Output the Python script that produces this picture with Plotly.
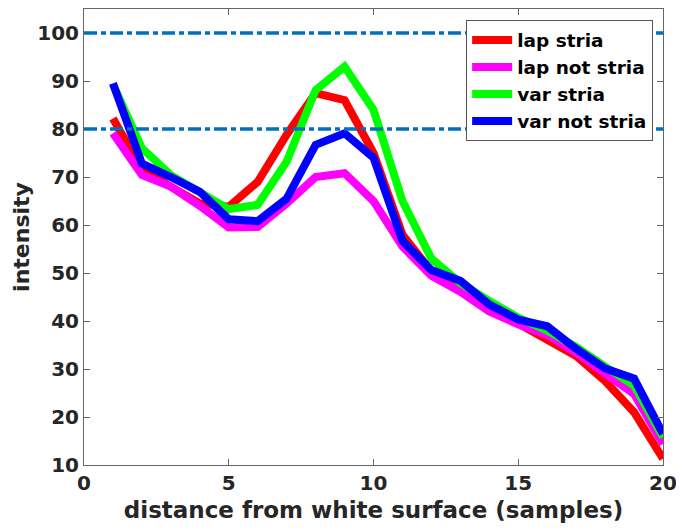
import plotly.graph_objects as go

x = list(range(1, 21))
lap_stria = [82.2, 71.5, 68.0, 64.5, 63.8, 69.0, 78.8, 87.5, 86.0, 75.0, 58.0, 50.3, 46.8, 42.5, 39.5, 36.1, 32.7, 27.5, 21.0, 11.3]
lap_not_stria = [79.1, 70.4, 68.0, 64.0, 59.5, 59.6, 64.5, 70.0, 70.8, 65.0, 55.5, 49.4, 46.1, 42.0, 39.3, 37.1, 33.4, 29.0, 24.8, 14.4]
var_stria = [89.3, 76.0, 70.4, 66.9, 63.3, 64.2, 73.2, 88.1, 93.0, 84.0, 65.0, 53.0, 47.9, 44.2, 40.7, 38.0, 34.6, 30.5, 26.6, 15.8]
var_not_stria = [89.5, 72.8, 70.0, 66.9, 61.2, 60.8, 65.5, 76.7, 79.1, 74.0, 56.7, 50.6, 48.4, 43.4, 40.3, 38.9, 34.2, 30.1, 28.0, 16.5]
ref_levels = [80, 100]

series = [
    ("lap stria", lap_stria, "#FF0000"),
    ("lap not stria", lap_not_stria, "#FF00FF"),
    ("var stria", var_stria, "#00FF00"),
    ("var not stria", var_not_stria, "#0000FF"),
]

fig = go.Figure()
for name, vals, col in series:
    fig.add_trace(go.Scatter(x=x, y=vals, mode="lines", name=name,
                             line=dict(color=col, width=8)))

for lv in ref_levels:
    fig.add_hline(y=lv, line=dict(color="#0072BD", width=3.5, dash="13px,4px,5px,4px"))

font_col = "#262626"
axis_common = dict(showgrid=False, zeroline=False, showline=True, mirror="ticks",
                   linecolor="#666666", linewidth=1, ticks="inside", ticklen=6,
                   tickcolor="#666666", automargin=False,
                   tickfont=dict(family="DejaVu Sans", size=20, color=font_col, weight="bold"))

fig.update_layout(
    width=676, height=523,
    margin=dict(l=76, r=21, t=1, b=66),
    paper_bgcolor="white", plot_bgcolor="white",
    font=dict(family="DejaVu Sans", color=font_col),
    xaxis=dict(range=[0, 20], tickvals=[0, 5, 10, 15, 20],
               title=dict(text="distance from white surface (samples)",
                          font=dict(size=23, color=font_col, weight="bold"), standoff=7),
               **axis_common),
    yaxis=dict(range=[10, 105], tickvals=list(range(10, 101, 10)),
               title=dict(text="intensity", font=dict(size=22, color=font_col, weight="bold"), standoff=1),
               **axis_common),
    legend=dict(x=0.66, y=0.975, xanchor="left", yanchor="top",
                bgcolor="white", bordercolor="#555555", borderwidth=1,
                font=dict(family="DejaVu Sans", size=18.5, color="#000000", weight="bold"),
                tracegroupgap=0, itemwidth=40),
    showlegend=True,
)

fig.write_html("out.html")
